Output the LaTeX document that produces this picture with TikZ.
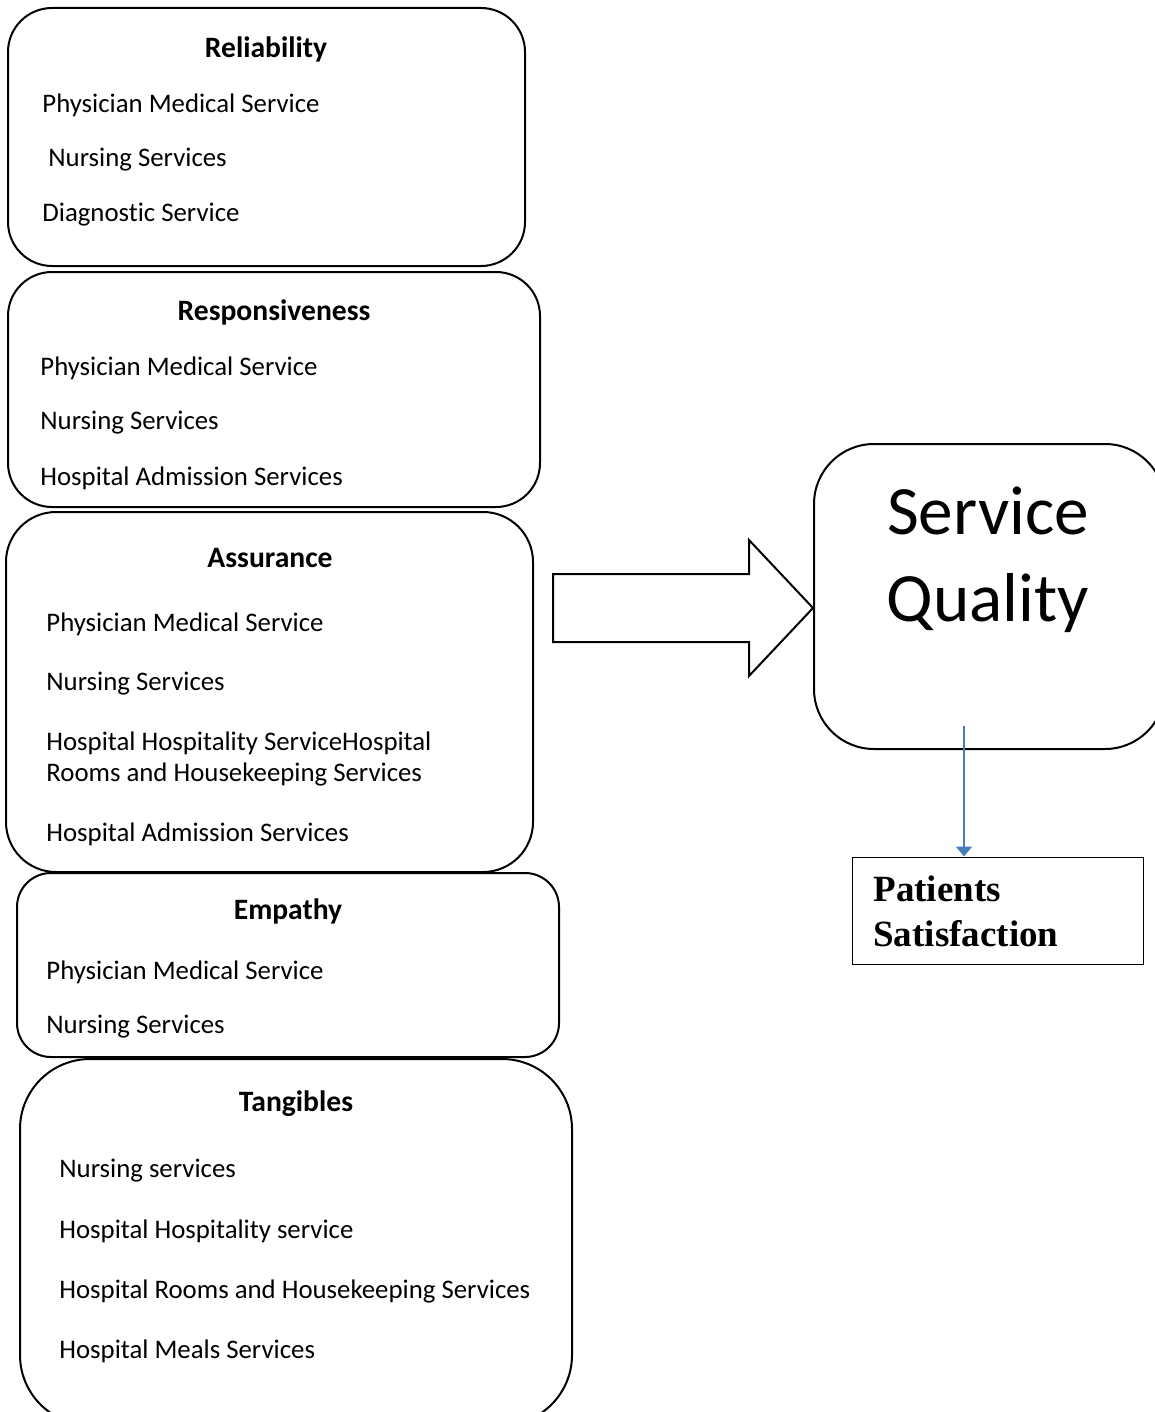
\documentclass[tikz,border=0pt]{standalone}
\usepackage{fontspec}
\setmainfont{Carlito}[Ligatures=NoCommon]
\newfontfamily\timesf{Liberation Serif}
\usetikzlibrary{arrows.meta}
\definecolor{wordblue}{HTML}{4A7EBB}
\begin{document}
\begin{tikzpicture}[x=0.5pt,y=-0.5pt,
  box/.style={draw,line width=1pt,inner sep=0pt,fill=none},
  item/.style={anchor=west,inner sep=0pt,yshift=-1pt,font=\fontsize{13.4}{16}\selectfont},
  head/.style={inner sep=0pt,yshift=-1pt,font=\fontsize{14.8}{17}\selectfont\bfseries}]
\useasboundingbox (0,0) rectangle (1155,1412);
% category boxes
\node[box,rounded corners=22pt,minimum width=258.5pt,minimum height=129pt] (rel) at (266.5,137) {};
\node[box,rounded corners=22pt,minimum width=266pt,minimum height=117.5pt] (res) at (274,389.5) {};
\node[box,rounded corners=25pt,minimum width=263.5pt,minimum height=180pt] (ass) at (269.5,692) {};
\node[box,rounded corners=17pt,minimum width=271pt,minimum height=92pt] (emp) at (288,965) {};
\node[box,rounded corners=35pt,minimum width=276pt,minimum height=183pt] (tan) at (296,1242) {};
% Reliability
\node[head] (relh) at (266,47) {Reliability};
\node[item] (rel1) at (42,103) {Physician Medical Service};
\node[item] (rel2) at (48,158) {Nursing Services};
\node[item] (rel3) at (42,213) {Diagnostic Service};
% Responsiveness
\node[head] (resh) at (274,310) {Responsiveness};
\node[item] (res1) at (40,366) {Physician Medical Service};
\node[item] (res2) at (40,421) {Nursing Services};
\node[item] (res3) at (40,476) {Hospital Admission Services};
% Assurance
\node[head] (assh) at (270,556) {Assurance};
\node[item] (ass1) at (46,622) {Physician Medical Service};
\node[item] (ass2) at (46,682) {Nursing Services};
\node[item] (ass3) at (46,741) {Hospital Hospitality ServiceHospital};
\node[item] (ass3b) at (46,772) {Rooms and Housekeeping Services};
\node[item] (ass4) at (46,832) {Hospital Admission Services};
% Empathy
\node[head] (emph) at (288,909) {Empathy};
\node[item] (emp1) at (46,970) {Physician Medical Service};
\node[item] (emp2) at (46,1025) {Nursing Services};
% Tangibles
\node[head] (tanh) at (296,1102) {Tangibles};
\node[item] (tan1) at (59,1169) {Nursing services};
\node[item] (tan2) at (59,1229) {Hospital Hospitality service};
\node[item] (tan3) at (59,1289) {Hospital Rooms and Housekeeping Services};
\node[item] (tan4) at (59,1349) {Hospital Meals Services};
% Service Quality
\node[box,rounded corners=30pt,minimum width=175.5pt,minimum height=152.5pt] (sq) at (989.5,596.5) {};
\node[inner sep=0pt,font=\fontsize{34.6}{38}\selectfont] (sqt1) at (988,511) {Service};
\node[inner sep=0pt,font=\fontsize{34.6}{38}\selectfont] (sqt2) at (988,603) {Quality};
% Patients Satisfaction
\node[draw,line width=0.5pt,inner sep=0pt,minimum width=145.5pt,minimum height=53.5pt] (ps) at (997.5,910.5) {};
\node[anchor=west,inner sep=0pt,font=\timesf\fontsize{18.5}{20}\selectfont\bfseries] (pst1) at (873,889) {Patients};
\node[anchor=west,inner sep=0pt,font=\timesf\fontsize{18.5}{20}\selectfont\bfseries] (pst2) at (873,934) {Satisfaction};
% block arrow
\draw[line width=1pt,line join=miter] (553,574) -- (749,574) -- (749,540) -- ([yshift=-5.75pt]sq.west) -- (749,676) -- (749,642) -- (553,642) -- cycle;
% blue arrow
\coordinate (bs) at (964,726);
\draw[wordblue,line width=1pt,-{Triangle[width=8pt,length=5pt]}] (bs) -- (bs |- ps.north);
\end{tikzpicture}
\end{document}
